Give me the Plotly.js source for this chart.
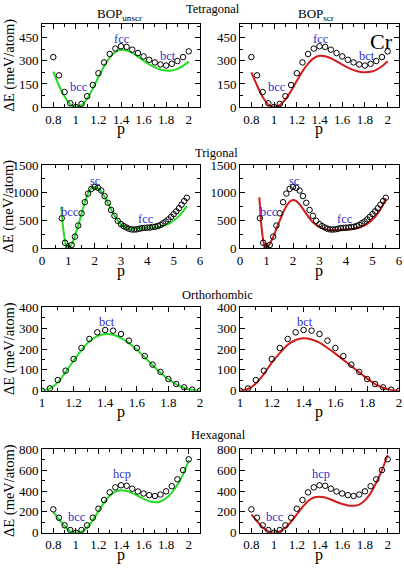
<!DOCTYPE html>
<html>
<head>
<meta charset="utf-8">
<script src="https://cdn.plot.ly/plotly-3.0.1.min.js"></script>
<style>html,body{margin:0;padding:0;background:#fff}#chart{width:404px;height:575px}</style>
</head>
<body>
<div id="chart"></div>
<script>
// ---------- Data ----------
// Tetragonal
const pTet = [0.8,0.85,0.9,0.95,1.0,1.05,1.1,1.15,1.2,1.25,1.3,1.35,1.4,1.45,1.5,1.55,1.6,1.65,1.7,1.75,1.8,1.85,1.9,1.95,2.0];
const tetRef = [325,206,97,24,0,20,70,143,220,290,345,380,395,391,373,351,329,307,290,277,270,281,299,325,362];
const tetUnscr = [230,140,68,18,0,12,55,120,195,265,322,358,372,368,352,328,302,278,258,244,237,238,248,268,295];
const tetScr = [225,140,65,15,0,12,50,105,170,232,282,318,333,330,317,297,276,256,240,230,226,229,242,265,298];

// Trigonal
const pTrig = [0.75,0.875,1,1.125,1.25,1.375,1.5,1.625,1.75,1.875,2,2.125,2.25,2.375,2.5,2.625,2.75,2.875,3,3.1,3.2,3.3,3.4,3.5,3.6,3.7,3.8,3.9,4,4.1,4.2,4.3,4.4,4.5,4.6,4.7,4.8,4.9,5,5.1,5.2,5.3,5.4,5.5];
const trigRef = [540,100,0,60,210,410,630,830,985,1070,1105,1090,1040,940,820,690,585,495,435,400,375,352,340,337,342,352,364,368,372,374,384,388,402,420,450,482,520,565,615,665,720,785,850,910];
const pTrigFit = [0.73,0.8,0.875,0.95,1.0,1.1,1.25,1.4,1.5,1.625,1.75,1.875,2.0,2.125,2.25,2.375,2.5,2.625,2.75,2.875,3.0,3.2,3.4,3.6,3.8,4.0,4.2,4.4,4.6,4.8,5.0,5.2,5.4,5.5];
const trigUnscr = [750,380,130,10,0,50,220,450,620,830,990,1080,1100,1080,1020,930,820,700,590,500,430,370,345,350,365,372,375,380,400,440,500,580,690,760];
const trigScr = [920,450,150,10,5,60,200,380,500,640,760,840,870,850,790,710,620,540,470,420,380,345,330,330,335,340,345,360,390,440,520,630,790,900];

// Orthorhombic
const pOrth = [1.0,1.05,1.1,1.15,1.2,1.25,1.3,1.35,1.4,1.45,1.5,1.55,1.6,1.65,1.7,1.75,1.8,1.85,1.9,1.95,2.0];
const orthRef = [0,11,51,96,152,205,248,280,291,288,272,240,205,166,125,90,56,32,16,5,0];
const orthUnscr = [0,10,40,90,145,195,237,262,272,268,252,228,196,160,122,86,55,30,13,3,0];
const orthScr = [0,8,35,80,135,180,220,243,251,246,230,205,178,148,118,88,58,32,14,4,0];

// Hexagonal
const pHex = [0.8,0.85,0.9,0.95,1.0,1.05,1.1,1.15,1.2,1.25,1.3,1.35,1.4,1.45,1.5,1.55,1.6,1.65,1.7,1.75,1.8,1.85,1.9,1.95,2.0];
const hexRef = [224,144,71,26,0,26,71,144,230,314,387,435,455,450,422,395,376,360,352,366,397,446,512,600,704];
const hexUnscr = [198,130,62,16,0,10,50,120,205,288,355,395,408,400,380,354,325,302,292,300,330,385,460,560,695];
const hexScr = [176,110,50,12,0,12,48,105,175,245,305,338,346,338,318,295,275,262,258,270,310,380,480,600,745];

// Labels
const tetLabels = [["bcc",1.03,127],["fcc",1.41,444],["bct",1.82,333]];
const trigLabels = [["bcc",1.08,660],["sc",2.04,1220],["fcc",3.95,535]];
const orthLabels = [["bct",1.41,328]];
const hexLabels = [["bcc",1.01,146],["hcp",1.41,565]];

// ---------- Build ----------
const W = 404, H = 575;
const GREEN = '#22dd22', RED = '#d41c1c', BLUE = '#2f2fc8';
const SERIF = 'Liberation Serif';
const colL = [42/W, 200/W], colR = [240/W, 399/W];
const rows = [[24,107],[165,248.3],[307.3,390.7],[449.3,532.7]].map(r => [1 - r[1]/H, 1 - r[0]/H]);

const panels = [
  {p:pTet, ref:tetRef, pf:pTet, fit:tetUnscr, col:GREEN, xr:[0.7,2.1], yr:[0,540], xd:0.2, xm:0.1, yd:150, ym:75, row:0, c:colL, labels:tetLabels},
  {p:pTet, ref:tetRef, pf:pTet, fit:tetScr, col:RED, xr:[0.7,2.1], yr:[0,540], xd:0.2, xm:0.1, yd:150, ym:75, row:0, c:colR, labels:tetLabels},
  {p:pTrig, ref:trigRef, pf:pTrigFit, fit:trigUnscr, col:GREEN, xr:[0,6], yr:[0,1500], xd:1, xm:0.5, yd:500, ym:250, row:1, c:colL, labels:trigLabels},
  {p:pTrig, ref:trigRef, pf:pTrigFit, fit:trigScr, col:RED, xr:[0,6], yr:[0,1500], xd:1, xm:0.5, yd:500, ym:250, row:1, c:colR, labels:trigLabels},
  {p:pOrth, ref:orthRef, pf:pOrth, fit:orthUnscr, col:GREEN, xr:[1,2], yr:[0,400], xd:0.2, xm:0.1, yd:100, ym:50, row:2, c:colL, labels:orthLabels},
  {p:pOrth, ref:orthRef, pf:pOrth, fit:orthScr, col:RED, xr:[1,2], yr:[0,400], xd:0.2, xm:0.1, yd:100, ym:50, row:2, c:colR, labels:orthLabels},
  {p:pHex, ref:hexRef, pf:pHex, fit:hexUnscr, col:GREEN, xr:[0.7,2.1], yr:[0,800], xd:0.2, xm:0.1, yd:200, ym:100, row:3, c:colL, labels:hexLabels},
  {p:pHex, ref:hexRef, pf:pHex, fit:hexScr, col:RED, xr:[0.7,2.1], yr:[0,800], xd:0.2, xm:0.1, yd:200, ym:100, row:3, c:colR, labels:hexLabels}
];

function axis(range, dtick, mdtick, domain, anchor) {
  return {
    domain: domain, range: range, dtick: dtick, tick0: 0, anchor: anchor,
    ticks: 'inside', ticklen: 5, tickwidth: 1, tickcolor: '#000',
    mirror: 'allticks', showline: true, linecolor: '#000', linewidth: 1,
    showgrid: false, zeroline: false, fixedrange: true,
    tickfont: {family: SERIF, size: 13, color: '#000'},
    minor: {dtick: mdtick, tick0: 0, ticks: 'inside', ticklen: 3, tickwidth: 1, tickcolor: '#000', showgrid: false}
  };
}

const data = [];
const layout = {
  width: W, height: H, margin: {l:0, r:0, t:0, b:0},
  paper_bgcolor: '#fff', plot_bgcolor: '#fff', showlegend: false,
  font: {family: SERIF, color: '#000'},
  annotations: []
};

panels.forEach((pn, i) => {
  const n = i + 1, sx = n === 1 ? '' : String(n);
  const xa = 'x' + sx, ya = 'y' + sx;
  layout['xaxis' + sx] = axis(pn.xr, pn.xd, pn.xm, pn.c, ya);
  layout['yaxis' + sx] = axis(pn.yr, pn.yd, pn.ym, rows[pn.row], xa);
  data.push({x: pn.pf, y: pn.fit, xaxis: xa, yaxis: ya, mode: 'lines',
    line: {color: pn.col, width: 2, shape: 'spline', smoothing: 0.8}, hoverinfo: 'skip'});
  data.push({x: pn.p, y: pn.ref, xaxis: xa, yaxis: ya, mode: 'markers',
    marker: {symbol: 'circle-open', size: 5.5, color: '#000', line: {width: 1, color: '#000'}}, hoverinfo: 'skip'});
  pn.labels.forEach(l => layout.annotations.push({
    text: l[0], x: l[1], y: l[2], xref: xa, yref: ya, showarrow: false,
    xanchor: 'center', yanchor: 'middle', font: {family: SERIF, size: 12.5, color: BLUE}
  }));
  // x title "p"
  const cx = (pn.c[0] + pn.c[1]) / 2;
  const xtY = [129, 271, 412, 555][pn.row];
  layout.annotations.push({text: 'p', x: cx, y: 1 - xtY / H, xref: 'paper', yref: 'paper',
    showarrow: false, xanchor: 'center', yanchor: 'middle', font: {family: SERIF, size: 16, color: '#000'}});
  if (pn.c === colL) {
    layout.annotations.push({text: 'ΔE (meV/atom)', x: 9 / W, y: (rows[pn.row][0] + rows[pn.row][1]) / 2,
      xref: 'paper', yref: 'paper', showarrow: false, textangle: -90, xanchor: 'center', yanchor: 'middle',
      font: {family: SERIF, size: 14.5, color: '#000'}});
  }
});

const titles = [
  ['BOP<sub>unscr</sub>', 119, 15, 13],
  ['Tetragonal', 213, 9, 12.5],
  ['BOP<sub>scr</sub>', 316, 15, 13],
  ['Trigonal', 216, 153, 12.5],
  ['Orthorhombic', 217, 295, 12.5],
  ['Hexagonal', 218, 435, 12.5]
];
titles.forEach(t => layout.annotations.push({text: t[0], x: t[1] / W, y: 1 - t[2] / H, xref: 'paper', yref: 'paper',
  showarrow: false, xanchor: 'center', yanchor: 'middle', font: {family: SERIF, size: t[3], color: '#000'}}));
layout.annotations.push({text: 'Cr', x: 381 / W, y: 1 - 41 / H, xref: 'paper', yref: 'paper',
  showarrow: false, xanchor: 'center', yanchor: 'middle', font: {family: SERIF, size: 22, color: '#000'}});

Plotly.newPlot('chart', data, layout, {staticPlot: true, displayModeBar: false});
</script>
</body>
</html>
